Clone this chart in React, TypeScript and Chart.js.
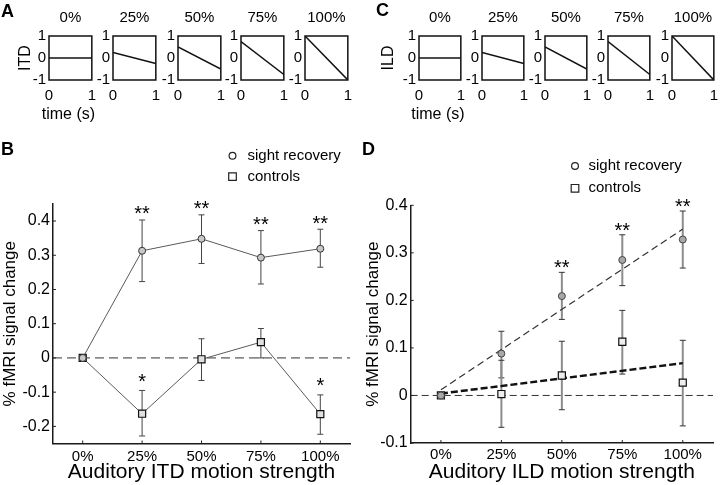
import React, { useEffect, useRef } from 'react';
import { Chart, registerables } from 'chart.js';

Chart.register(...registerables);

const FONT = '"Liberation Sans", Arial, Helvetica, sans-serif';
Chart.defaults.font.family = FONT;
Chart.defaults.color = '#000';

// ---------------- data ----------------
const STRENGTHS = ['0%', '25%', '50%', '75%', '100%'];
const TIME_TICKS = [0, 1];
const CUE_TICKS = [-1, 0, 1];
const ITD_START = [0, 0.25, 0.5, 0.75, 1];
const ITD_END = [0, -0.25, -0.5, -0.75, -1];
const ILD_START = [0, 0.25, 0.5, 0.75, 1];
const ILD_END = [0, -0.25, -0.5, -0.75, -1];

const ITD_TICKS = [-0.2, -0.1, 0, 0.1, 0.2, 0.3, 0.4];
const ILD_TICKS = [-0.1, 0, 0.1, 0.2, 0.3, 0.4];

const ITD_SIGHT = [0, 0.313, 0.348, 0.293, 0.319];
const ITD_SIGHT_LO = [null, 0.223, 0.276, 0.216, 0.265];
const ITD_SIGHT_HI = [null, 0.403, 0.418, 0.372, 0.376];
const ITD_SIGHT_STARS = ['', '**', '**', '**', '**'];
const ITD_CONTROL = [0, -0.163, -0.004, 0.046, -0.164];
const ITD_CONTROL_LO = [null, -0.228, -0.066, 0.0, -0.223];
const ITD_CONTROL_HI = [null, -0.095, 0.056, 0.086, -0.108];
const ITD_CONTROL_STARS = ['', '*', '', '', '*'];

const ILD_SIGHT = [0, 0.088, 0.209, 0.285, 0.328];
const ILD_SIGHT_LO = [null, 0.037, 0.16, 0.231, 0.268];
const ILD_SIGHT_HI = [null, 0.135, 0.259, 0.338, 0.388];
const ILD_SIGHT_STARS = ['', '', '**', '**', '**'];
const ILD_CONTROL = [0, 0.003, 0.042, 0.113, 0.027];
const ILD_CONTROL_LO = [null, -0.067, -0.03, 0.045, -0.064];
const ILD_CONTROL_HI = [null, 0.074, 0.114, 0.179, 0.116];
const ILD_SIGHT_FIT = [0.012, null, null, null, 0.35];
const ILD_CONTROL_FIT = [0.004, null, null, null, 0.068];

const TIME_LABEL = 'time (s)';

// ---------------- plugins ----------------
const framePlugin = {
  id: 'frame',
  afterDatasetsDraw(chart: any) {
    const { ctx, chartArea: a } = chart;
    ctx.save();
    ctx.strokeStyle = '#111';
    ctx.lineWidth = 1.5;
    ctx.strokeRect(a.left, a.top, a.right - a.left, a.bottom - a.top);
    ctx.restore();
  },
};

const timeLabelPlugin = {
  id: 'timeLabel',
  afterDraw(chart: any) {
    const { ctx, chartArea: a } = chart;
    ctx.save();
    ctx.font = `16px ${FONT}`;
    ctx.fillStyle = '#000';
    ctx.textAlign = 'center';
    ctx.textBaseline = 'middle';
    ctx.fillText(TIME_LABEL, (a.left + a.right) / 2 - 2, a.bottom + 35);
    ctx.restore();
  },
};

const makeZeroLine = (dash: number[], color: string) => ({
  id: 'zeroLine',
  beforeDatasetsDraw(chart: any) {
    const { ctx, chartArea: a } = chart;
    const y = chart.scales.y.getPixelForValue(0);
    ctx.save();
    ctx.strokeStyle = color;
    ctx.lineWidth = 1;
    ctx.setLineDash(dash);
    ctx.beginPath();
    ctx.moveTo(a.left, y);
    ctx.lineTo(a.right, y);
    ctx.stroke();
    ctx.restore();
  },
});

const errorBarPlugin = {
  id: 'errorBars',
  beforeDatasetsDraw(chart: any) {
    const { ctx } = chart;
    const xs = chart.scales.x;
    const ys = chart.scales.y;
    chart.data.datasets.forEach((ds: any) => {
      if (!ds.errLo) return;
      ds.errLo.forEach((lo: number | null, i: number) => {
        const hi = ds.errHi[i];
        if (lo == null || hi == null) return;
        const x = xs.getPixelForValue(i);
        const y1 = ys.getPixelForValue(lo);
        const y2 = ys.getPixelForValue(hi);
        ctx.save();
        ctx.strokeStyle = ds.errColor;
        ctx.lineWidth = ds.errWidth;
        ctx.beginPath();
        ctx.moveTo(x, y1);
        ctx.lineTo(x, y2);
        ctx.stroke();
        ctx.strokeStyle = ds.capColor;
        ctx.lineWidth = 1;
        ctx.beginPath();
        ctx.moveTo(x - ds.capHalf, y1);
        ctx.lineTo(x + ds.capHalf, y1);
        ctx.moveTo(x - ds.capHalf, y2);
        ctx.lineTo(x + ds.capHalf, y2);
        ctx.stroke();
        ctx.restore();
      });
    });
  },
};

const starPlugin = {
  id: 'stars',
  afterDatasetsDraw(chart: any) {
    const { ctx } = chart;
    const xs = chart.scales.x;
    const ys = chart.scales.y;
    chart.data.datasets.forEach((ds: any) => {
      if (!ds.stars) return;
      ds.stars.forEach((s: string, i: number) => {
        if (!s) return;
        const hi = ds.errHi[i];
        const x = xs.getPixelForValue(i);
        const yc = ys.getPixelForValue(hi) - ds.starGap;
        ctx.save();
        ctx.font = `20px ${FONT}`;
        ctx.fillStyle = '#000';
        ctx.textAlign = 'center';
        ctx.textBaseline = 'alphabetic';
        ctx.fillText(s, x, yc + 11.4);
        ctx.restore();
      });
    });
  },
};

const innerTickPlugin = {
  id: 'innerTicks',
  afterDraw(chart: any) {
    const { ctx, chartArea: a } = chart;
    const xs = chart.scales.x;
    const ys = chart.scales.y;
    ctx.save();
    ctx.strokeStyle = '#222';
    ctx.lineWidth = 1;
    ctx.beginPath();
    ys.ticks.forEach((t: any) => {
      const y = ys.getPixelForValue(t.value);
      ctx.moveTo(a.left, y);
      ctx.lineTo(a.left + 3, y);
    });
    xs.ticks.forEach((t: any, i: number) => {
      const x = xs.getPixelForValue(i);
      ctx.moveTo(x, a.bottom);
      ctx.lineTo(x, a.bottom - 3);
    });
    ctx.stroke();
    ctx.restore();
  },
};

const makeLegend = (x: number, y: number, dy: number, gap: number) => ({
  id: 'markerLegend',
  afterDraw(chart: any) {
    const { ctx } = chart;
    let row = 0;
    chart.data.datasets.forEach((ds: any) => {
      if (!ds.legendMarker) return;
      const cy = y + row * dy;
      ctx.save();
      ctx.strokeStyle = '#222';
      ctx.lineWidth = 1.2;
      ctx.fillStyle = '#fff';
      ctx.beginPath();
      if (ds.legendMarker === 'circle') {
        ctx.arc(x, cy, 3.4, 0, Math.PI * 2);
      } else {
        ctx.rect(x - 3.8, cy - 3.8, 7.6, 7.6);
      }
      ctx.fill();
      ctx.stroke();
      ctx.font = `15px ${FONT}`;
      ctx.fillStyle = '#000';
      ctx.textAlign = 'left';
      ctx.textBaseline = 'middle';
      ctx.fillText(ds.label, x + gap, cy);
      ctx.restore();
      row += 1;
    });
  },
});

// ---------------- configs ----------------
type SmallOpts = {
  start: number;
  end: number;
  title: string;
  cue: string | null;
  yW: number;
  cuePad: number;
};

function smallConfig(o: SmallOpts): any {
  const plugins: any[] = [framePlugin];
  if (o.cue !== null) plugins.push(timeLabelPlugin);
  return {
    type: 'line',
    data: {
      datasets: [
        {
          data: [
            { x: TIME_TICKS[0], y: o.start },
            { x: TIME_TICKS[1], y: o.end },
          ],
          borderColor: '#111',
          borderWidth: 1.5,
          pointRadius: 0,
        },
      ],
    },
    options: {
      animation: false,
      responsive: true,
      maintainAspectRatio: false,
      events: [],
      layout: { padding: { left: 0, right: 10, top: 0, bottom: 0 } },
      plugins: {
        legend: { display: false },
        tooltip: { enabled: false },
        title: {
          display: true,
          text: o.title,
          fullSize: false,
          color: '#000',
          font: { size: 15, weight: 'normal' },
          padding: { top: 9, bottom: 9 },
        },
      },
      scales: {
        x: {
          type: 'linear',
          min: 0,
          max: 1,
          afterBuildTicks: (s: any) => {
            s.ticks = TIME_TICKS.map((v) => ({ value: v }));
          },
          afterFit: (s: any) => {
            s.height = 45;
          },
          grid: { display: false, drawTicks: false },
          border: { display: false },
          ticks: { font: { size: 15 }, padding: 7, color: '#000' },
        },
        y: {
          type: 'linear',
          min: -1,
          max: 1,
          afterBuildTicks: (s: any) => {
            s.ticks = CUE_TICKS.map((v) => ({ value: v }));
          },
          afterFit: (s: any) => {
            s.width = o.yW;
          },
          grid: { display: false, drawTicks: false },
          border: { display: false },
          ticks: { font: { size: 15 }, padding: 3, color: '#000' },
          title: {
            display: o.cue !== null,
            text: o.cue ?? '',
            color: '#000',
            font: { size: 16 },
            padding: { top: o.cuePad, bottom: 0 },
          },
        },
      },
    },
    plugins,
  };
}

type MainOpts = {
  datasets: any[];
  yTicks: number[];
  ymin: number;
  ymax: number;
  padTop: number;
  padRight: number;
  yW: number;
  xH: number;
  xTickPad: number;
  xTitle: string;
  yTitlePad: number;
  zeroDash: number[];
  legend: any;
};

function mainConfig(o: MainOpts): any {
  return {
    type: 'line',
    data: { labels: STRENGTHS, datasets: o.datasets },
    options: {
      animation: false,
      responsive: true,
      maintainAspectRatio: false,
      events: [],
      layout: { padding: { left: 0, right: o.padRight, top: o.padTop, bottom: 0 } },
      plugins: {
        legend: { display: false },
        tooltip: { enabled: false },
        title: { display: false },
      },
      scales: {
        x: {
          type: 'category',
          offset: true,
          afterFit: (s: any) => {
            s.height = o.xH;
          },
          grid: { display: false, drawTicks: false },
          border: { display: true, color: '#1a1a1a', width: 1.5 },
          ticks: { font: { size: 15 }, padding: o.xTickPad, color: '#000', autoSkip: false, maxRotation: 0 },
          title: {
            display: true,
            text: o.xTitle,
            color: '#000',
            font: { size: 21 },
            padding: { top: 0, bottom: 0 },
          },
        },
        y: {
          type: 'linear',
          min: o.ymin,
          max: o.ymax,
          afterBuildTicks: (s: any) => {
            s.ticks = o.yTicks.map((v) => ({ value: v }));
          },
          afterFit: (s: any) => {
            s.width = o.yW;
          },
          grid: { display: false, drawTicks: false },
          border: { display: true, color: '#1a1a1a', width: 1.5 },
          ticks: {
            font: { size: 16 },
            padding: 3,
            color: '#000',
            callback: (v: any) => String(Math.round(Number(v) * 10) / 10),
          },
          title: {
            display: true,
            text: '% fMRI signal change',
            color: '#000',
            font: { size: 17 },
            padding: { top: o.yTitlePad, bottom: 0 },
          },
        },
      },
    },
    plugins: [makeZeroLine(o.zeroDash, '#333'), errorBarPlugin, starPlugin, innerTickPlugin, o.legend],
  };
}

function itdConfig() {
  return mainConfig({
    datasets: [
      {
        label: 'sight recovery',
        data: ITD_SIGHT,
        borderColor: '#5a5a5a',
        borderWidth: 1,
        pointStyle: 'circle',
        pointRadius: 3.5,
        pointBackgroundColor: '#c8c8c8',
        pointBorderColor: '#333',
        pointBorderWidth: 1,
        errLo: ITD_SIGHT_LO,
        errHi: ITD_SIGHT_HI,
        errColor: '#444',
        errWidth: 1,
        capColor: '#444',
        capHalf: 3,
        stars: ITD_SIGHT_STARS,
        starGap: 11,
        legendMarker: 'circle',
      },
      {
        label: 'controls',
        data: ITD_CONTROL,
        borderColor: '#5a5a5a',
        borderWidth: 1,
        pointStyle: 'rect',
        pointRadius: 5,
        pointBackgroundColor: '#e0e0e0',
        pointBorderColor: '#111',
        pointBorderWidth: 1.2,
        errLo: ITD_CONTROL_LO,
        errHi: ITD_CONTROL_HI,
        errColor: '#444',
        errWidth: 1,
        capColor: '#444',
        capHalf: 3,
        stars: ITD_CONTROL_STARS,
        starGap: 14,
        legendMarker: 'rect',
      },
    ],
    yTicks: ITD_TICKS,
    ymin: -0.25,
    ymax: 0.45,
    padTop: 63.9,
    padRight: 10,
    yW: 53,
    xH: 41.5,
    xTickPad: 4,
    xTitle: 'Auditory ITD motion strength',
    yTitlePad: 0,
    zeroDash: [9, 5],
    legend: makeLegend(232.5, 15.8, 20.8, 15),
  });
}

function ildConfig() {
  return mainConfig({
    datasets: [
      {
        label: 'sight recovery',
        data: ILD_SIGHT,
        showLine: false,
        pointStyle: 'circle',
        pointRadius: 3.5,
        pointBackgroundColor: '#a8a8a8',
        pointBorderColor: '#444',
        pointBorderWidth: 1,
        errLo: ILD_SIGHT_LO,
        errHi: ILD_SIGHT_HI,
        errColor: '#8c8c8c',
        errWidth: 2,
        capColor: '#333',
        capHalf: 3,
        stars: ILD_SIGHT_STARS,
        starGap: 9.5,
        legendMarker: 'circle',
      },
      {
        label: 'controls',
        data: ILD_CONTROL,
        showLine: false,
        pointStyle: 'rect',
        pointRadius: 5,
        pointBackgroundColor: '#eeeeee',
        pointBorderColor: '#111',
        pointBorderWidth: 1.2,
        errLo: ILD_CONTROL_LO,
        errHi: ILD_CONTROL_HI,
        errColor: '#8c8c8c',
        errWidth: 2,
        capColor: '#333',
        capHalf: 3,
        legendMarker: 'rect',
      },
      {
        label: 'sight recovery fit',
        data: ILD_SIGHT_FIT,
        spanGaps: true,
        borderColor: '#333',
        borderWidth: 1.2,
        borderDash: [7, 4],
        pointRadius: 0,
      },
      {
        label: 'controls fit',
        data: ILD_CONTROL_FIT,
        spanGaps: true,
        borderColor: '#111',
        borderWidth: 2.4,
        borderDash: [7, 3],
        pointRadius: 0,
      },
    ],
    yTicks: ILD_TICKS,
    ymin: -0.1,
    ymax: 0.4,
    padTop: 65.3,
    padRight: 7,
    yW: 50.7,
    xH: 42,
    xTickPad: 3,
    xTitle: 'Auditory ILD motion strength',
    yTitlePad: 2.8,
    zeroDash: [7, 4],
    legend: makeLegend(215, 26, 22.3, 13.5),
  });
}

// ---------------- components ----------------
function ChartBox(props: { left: number; top: number; width: number; height: number; make: () => any }) {
  const ref = useRef<HTMLCanvasElement>(null);
  useEffect(() => {
    const chart = new Chart(ref.current as HTMLCanvasElement, props.make());
    return () => chart.destroy();
  }, []);
  return (
    <div style={{ position: 'absolute', left: props.left, top: props.top, width: props.width, height: props.height }}>
      <canvas ref={ref} />
    </div>
  );
}

const A_LEFTS = [49, 113, 178, 241, 305];
const C_LEFTS = [419, 482, 545, 608, 672];

function Letter(props: { text: string; left: number; top: number }) {
  return (
    <div
      style={{
        position: 'absolute',
        left: props.left,
        top: props.top,
        font: `bold 18px ${FONT}`,
        lineHeight: '18px',
        color: '#000',
      }}
    >
      {props.text}
    </div>
  );
}

export default function App() {
  const smallRow = (lefts: number[], starts: number[], ends: number[], cue: string, cuePadFirst: number, boxW: number) =>
    lefts.map((bl, i) => {
      const yW = i === 0 ? 49 : 22;
      return (
        <ChartBox
          key={cue + i}
          left={bl - yW}
          top={0}
          width={yW + boxW + 10}
          height={125}
          make={() =>
            smallConfig({
              start: starts[i],
              end: ends[i],
              title: STRENGTHS[i],
              cue: i === 0 ? cue : null,
              yW,
              cuePad: cuePadFirst,
            })
          }
        />
      );
    });

  return (
    <div
      style={{
        position: 'fixed',
        left: 0,
        top: 0,
        width: 720,
        height: 485,
        background: '#fff',
        overflow: 'hidden',
      }}
    >
      {smallRow(A_LEFTS, ITD_START, ITD_END, 'ITD', 15.5, 44)}
      {smallRow(C_LEFTS, ILD_START, ILD_END, 'ILD', 8.5, 43)}
      <ChartBox left={0} top={140} width={360} height={345} make={itdConfig} />
      <ChartBox left={360} top={140} width={360} height={345} make={ildConfig} />
      <Letter text="A" left={1} top={2} />
      <Letter text="C" left={376} top={1} />
      <Letter text="B" left={1} top={140} />
      <Letter text="D" left={362} top={140} />
    </div>
  );
}
